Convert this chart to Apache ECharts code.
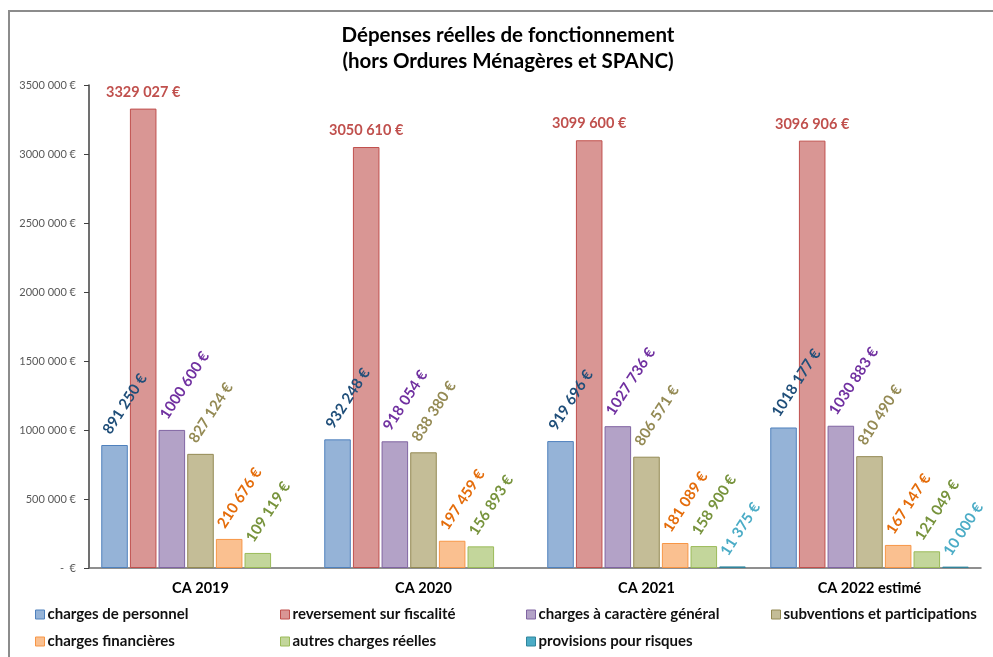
<!DOCTYPE html>
<html>
<head>
<meta charset="utf-8">
<script src="https://cdn.jsdelivr.net/npm/echarts@6/dist/echarts.min.js"></script>
<style>
  html, body { margin: 0; padding: 0; background: #fff; }
  #chart { width: 993px; height: 657px; }
</style>
</head>
<body>
<div id="chart"></div>
<script>
// Comptes administratifs : dépenses réelles de fonctionnement (en €)
const categories = ['CA 2019', 'CA 2020', 'CA 2021', 'CA 2022 estimé'];

const chargesPersonnel = [891250, 932248, 919696, 1018177];
const reversementFiscalite = [3329027, 3050610, 3099600, 3096906];
const chargesGenerales = [1000600, 918054, 1027736, 1030883];
const subventionsParticipations = [827124, 838380, 806571, 810490];
const chargesFinancieres = [210676, 197459, 181089, 167147];
const autresCharges = [109119, 156893, 158900, 121049];
const provisionsRisques = [null, null, 11375, 10000];

const yTicks = [0, 500000, 1000000, 1500000, 2000000, 2500000, 3000000, 3500000];

const FONT = 'Lato, "Open Sans", sans-serif';

// Format « 3329 027 € » : seul le groupe des milliers est séparé
function euros(v) {
  if (v === 0) return '-  €';
  const s = String(Math.round(v));
  const body = s.length > 3 ? s.slice(0, -3) + ' ' + s.slice(-3) : s;
  return body + ' €';
}

const seriesDefs = [
  { name: 'charges de personnel', data: chargesPersonnel, fill: '#95B3D7', border: '#4F81BD', text: '#1F4E79' },
  { name: 'reversement sur fiscalité', data: reversementFiscalite, fill: '#D99694', border: '#C0504D', text: '#C0504D', flat: true },
  { name: 'charges à caractère général', data: chargesGenerales, fill: '#B3A2C7', border: '#8064A2', text: '#7030A0' },
  { name: 'subventions et participations', data: subventionsParticipations, fill: '#C4BD97', border: '#948A54', text: '#948A54' },
  { name: 'charges financières', data: chargesFinancieres, fill: '#FAC090', border: '#F79646', text: '#E46C0A' },
  { name: 'autres charges réelles', data: autresCharges, fill: '#C3D69B', border: '#9BBB59', text: '#77933C' },
  { name: 'provisions pour risques', data: provisionsRisques, fill: '#4BACC6', border: '#31859C', text: '#4BACC6' }
];

const series = seriesDefs.map(function (d) {
  const label = d.flat ? {
    show: true,
    position: 'top',
    distance: 9,
    fontFamily: FONT,
    fontSize: 14.5,
    fontWeight: 'bold',
    color: d.text,
    formatter: function (p) { return euros(p.value); }
  } : {
    show: true,
    position: 'top',
    distance: 25,
    rotate: 57,
    align: 'left',
    verticalAlign: 'middle',
    offset: [-15, 0],
    fontFamily: FONT,
    fontSize: 15,
    fontWeight: 'bold',
    color: d.text,
    formatter: function (p) { return p.value == null ? '' : euros(p.value); }
  };
  return {
    name: d.name,
    type: 'bar',
    data: d.data,
    barGap: '8%',
    barCategoryGap: '11%',
    itemStyle: { color: d.fill, borderColor: d.border, borderWidth: 1 },
    label: label
  };
});

// Légende en deux lignes, colonnes alignées
const legendSlots = [
  [35, 607], [280, 607], [526, 607], [771, 607],
  [35, 634], [280, 634], [526, 634]
];
const legends = seriesDefs.map(function (d, i) {
  return {
    data: [{ name: d.name, itemStyle: { color: d.fill, borderColor: d.border, borderWidth: 1 } }],
    left: legendSlots[i][0],
    top: legendSlots[i][1],
    itemWidth: 9,
    itemHeight: 9,
    icon: 'rect',
    itemGap: 0,
    padding: 0,
    selectedMode: false,
    textStyle: { fontFamily: FONT, fontSize: 15, fontWeight: 'bold', color: '#111', padding: [0, 0, 0, -2] }
  };
});

const chart = echarts.init(document.getElementById('chart'), null, { renderer: 'canvas' });
chart.setOption({
  animation: false,
  backgroundColor: '#ffffff',
  title: {
    text: 'Dépenses réelles de fonctionnement\n(hors Ordures Ménagères et SPANC)',
    left: 503,
    top: 17,
    textAlign: 'center',
    textStyle: { fontFamily: FONT, fontSize: 20.5, fontWeight: 'bold', color: '#000', lineHeight: 26 }
  },
  graphic: [{
    type: 'rect',
    shape: { x: 9, y: 11, width: 1000, height: 700 },
    style: { fill: 'none', stroke: '#8c8c8c', lineWidth: 2 },
    silent: true,
    z: -1
  }],
  legend: legends,
  grid: { left: 89, right: 12, top: 85, bottom: 89, containLabel: false },
  xAxis: {
    type: 'category',
    data: categories,
    axisLine: { lineStyle: { color: '#6b6b6b', width: 1.5 } },
    axisTick: { show: false },
    axisLabel: { fontFamily: FONT, fontSize: 14.5, fontWeight: 'bold', color: '#000', margin: 13 }
  },
  yAxis: {
    type: 'value',
    min: yTicks[0],
    max: yTicks[yTicks.length - 1],
    interval: yTicks[1] - yTicks[0],
    axisLine: { show: true, lineStyle: { color: '#404040', width: 1.5 } },
    axisTick: { show: true, length: 5, lineStyle: { color: '#404040' } },
    splitLine: { show: false },
    axisLabel: { fontFamily: FONT, fontSize: 11, color: '#595959', margin: 13, formatter: euros }
  },
  series: series
});
</script>
</body>
</html>
